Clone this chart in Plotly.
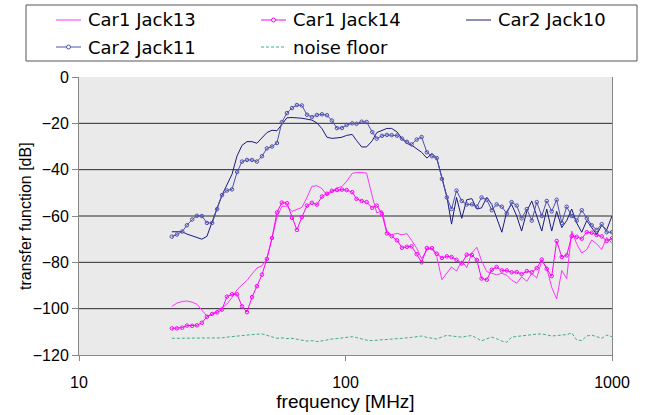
import plotly.graph_objects as go

# Measurement frequencies (MHz), shared by all sweeps
FREQ_MHZ = [22.3, 23.3, 24.4, 25.4, 26.6, 27.7, 28.9, 30.2, 31.6, 33.0,
            34.4, 35.9, 37.5, 39.2, 40.9, 42.7, 44.6, 46.5, 48.6, 50.7,
            53.0, 55.3, 57.7, 60.3, 63.0, 65.7, 68.6, 71.7, 74.8, 78.1,
            81.6, 85.2, 88.9, 92.9, 97.0, 101, 106, 110, 115, 120,
            126, 131, 137, 143, 149, 156, 163, 170, 177, 185,
            193, 202, 211, 220, 230, 240, 250, 261, 273, 285,
            298, 311, 324, 339, 354, 369, 386, 403, 420, 439,
            458, 479, 500, 522, 545, 569, 594, 620, 648, 676,
            706, 737, 770, 804, 839, 876, 915, 955, 1000]

# Transfer functions in dB
CAR1_JACK13 = [-99.0, -97.6, -96.9, -96.7, -97.2, -98.1, -100.6, -103.2, -102.4, -100.8,
               -99.7, -98.0, -95.2, -91.8, -89.7, -87.8, -85.0, -82.5, -81.5, -78.5,
               -69.5, -60.5, -55.8, -55.8, -58.0, -57.0, -56.3, -52.0, -47.2, -46.9,
               -48.2, -51.0, -49.4, -47.8, -47.3, -45.0, -41.6, -41.2, -41.2, -41.5,
               -51.5, -58.7, -57.6, -66.8, -68.1, -67.5, -68.1, -67.6, -70.5, -73.9,
               -78.5, -74.6, -73.9, -77.5, -87.5, -84.5, -82.0, -83.8, -79.3, -82.3,
               -75.9, -73.5, -79.3, -84.0, -84.7, -85.4, -84.7, -85.6, -87.7, -89.0,
               -86.3, -88.2, -84.8, -86.8, -79.2, -82.5, -90.8, -95.8, -83.5, -87.0,
               -66.5, -72.0, -76.0, -74.5, -70.4, -72.0, -74.5, -69.2, -71.8]

CAR1_JACK14 = [-108.5, -108.5, -108.2, -107.3, -107.4, -107.2, -106.1, -103.5, -102.3, -101.6,
               -100.4, -94.8, -93.8, -93.8, -99.0, -101.5, -95.0, -90.3, -85.3, -78.5,
               -69.5, -58.5, -54.2, -54.5, -60.8, -66.0, -60.5, -55.5, -54.3, -55.1,
               -51.6, -50.4, -49.1, -48.8, -48.6, -48.8, -49.7, -52.6, -53.5, -54.0,
               -56.5, -55.5, -59.0, -67.5, -68.7, -70.5, -73.7, -73.3, -73.1, -76.5,
               -80.0, -73.8, -73.9, -76.3, -78.1, -77.4, -77.7, -78.9, -80.5, -76.7,
               -76.8, -79.0, -87.0, -87.5, -83.2, -82.0, -83.5, -83.5, -84.3, -84.2,
               -85.1, -83.8, -84.3, -82.5, -78.8, -82.8, -86.0, -70.8, -77.7, -77.0,
               -68.7, -69.0, -69.8, -67.0, -67.2, -68.2, -68.8, -70.8, -69.6]

CAR2_JACK10 = [-66.8, -66.8, -66.8, -67.8, -68.5, -69.2, -70.0, -68.8, -62.0, -56.5,
               -51.0, -46.5, -42.0, -34.0, -29.5, -27.9, -27.9, -28.6, -26.0, -24.0,
               -23.0, -23.2, -20.5, -17.6, -17.5, -17.6, -17.8, -18.2, -18.6, -19.8,
               -22.3, -26.0, -26.5, -26.3, -26.0, -25.2, -24.8, -27.4, -30.2, -30.2,
               -27.5, -24.0, -23.0, -22.2, -22.2, -23.7, -26.6, -28.7, -29.4, -31.0,
               -32.5, -35.0, -33.0, -35.0, -43.0, -51.5, -63.5, -52.0, -61.0, -53.0,
               -52.5, -57.0, -56.5, -52.0, -55.0, -61.0, -67.0, -58.0, -55.0, -60.0,
               -66.5, -58.0, -53.5, -60.0, -66.5, -57.0, -66.5, -58.0, -65.0, -62.0,
               -57.0, -63.0, -67.0, -62.0, -65.0, -68.0, -64.0, -66.0, -60.0]

CAR2_JACK11 = [-68.9, -68.0, -66.7, -64.0, -61.5, -59.9, -60.0, -63.0, -63.0, -57.0,
               -51.0, -49.0, -48.5, -41.0, -36.5, -35.8, -35.8, -36.5, -34.2, -30.8,
               -30.0, -28.5, -19.5, -15.6, -13.4, -12.1, -12.3, -16.3, -17.3, -16.4,
               -16.1, -16.5, -18.8, -22.1, -22.0, -20.7, -20.0, -20.2, -19.3, -19.4,
               -23.8, -26.6, -25.4, -25.0, -25.1, -25.3, -26.6, -28.0, -29.1, -27.0,
               -25.9, -32.5, -34.2, -35.0, -44.0, -52.0, -57.0, -49.0, -53.5, -55.0,
               -55.0, -56.0, -52.0, -53.0, -57.5, -55.0, -56.0, -59.0, -54.0, -55.5,
               -61.0, -57.0, -62.0, -54.0, -60.0, -53.5, -58.0, -53.0, -63.0, -56.0,
               -60.0, -62.0, -57.5, -61.0, -64.0, -66.0, -63.5, -67.0, -67.0]

NOISE_FLOOR = [-112.8, -112.8, -112.8, -112.8, -112.8, -112.7, -112.8, -112.8, -112.8, -112.6,
               -112.6, -112.3, -112.0, -111.8, -111.6, -111.4, -111.2, -111.0, -110.9, -111.5,
               -112.3, -112.8, -112.6, -112.9, -112.8, -113.2, -113.5, -114.0, -113.8, -114.2,
               -113.9, -113.4, -113.1, -112.9, -112.6, -112.3, -112.1, -112.5, -113.0, -113.6,
               -113.8, -113.5, -113.4, -113.3, -113.2, -113.0, -112.8, -112.6, -112.4, -112.0,
               -111.8, -112.4, -112.8, -113.1, -112.2, -111.5, -111.8, -112.2, -112.3, -111.9,
               -111.6, -112.8, -113.9, -113.0, -112.3, -113.0, -114.0, -114.5, -112.3, -112.0,
               -111.7, -111.4, -111.2, -111.0, -110.9, -111.3, -111.8, -111.6, -111.4, -111.2,
               -110.5, -113.5, -113.8, -111.8, -111.4, -112.2, -112.8, -111.4, -112.1]

Y_GRID = [-20, -40, -60, -80, -100]
X_TICKS = [10, 100, 1000]

W, H = 647, 415
M_L, M_R, M_T, M_B = 79, 35, 77, 60
PLOT_W, PLOT_H = W - M_L - M_R, H - M_T - M_B


def px_x(px):
    """Horizontal page pixel -> paper coordinate."""
    return (px - M_L) / PLOT_W


def px_y(py):
    """Vertical page pixel (from top) -> paper coordinate."""
    return 1 + (M_T - py) / PLOT_H


SERIES = [
    dict(name="Car1 Jack13", y=CAR1_JACK13, color="#FF33FF", marker=False, dash="solid"),
    dict(name="Car1 Jack14", y=CAR1_JACK14, color="#FF00FF", marker=True, dash="solid"),
    dict(name="Car2 Jack10", y=CAR2_JACK10, color="#1A1A80", marker=False, dash="solid"),
    dict(name="Car2 Jack11", y=CAR2_JACK11, color="#4F4FB0", marker=True, dash="solid"),
    dict(name="noise floor", y=NOISE_FLOOR, color="#3FAF7F", marker=False, dash="3px,2px"),
]

fig = go.Figure()
for s in SERIES:
    fig.add_trace(go.Scatter(
        x=FREQ_MHZ, y=s["y"], name=s["name"],
        mode="lines+markers" if s["marker"] else "lines",
        line=dict(color=s["color"], width=1, dash=s["dash"]),
        marker=dict(symbol="circle-open", size=3.5, color=s["color"], line=dict(width=1)),
        showlegend=False,
    ))

shapes = [dict(type="line", xref="paper", x0=0, x1=1, yref="y", y0=v, y1=v,
               line=dict(color="#2A2A2A", width=1), layer="below") for v in Y_GRID]

# legend: framed box with three columns, two rows
shapes.append(dict(type="rect", xref="paper", yref="paper",
                   x0=px_x(26), x1=px_x(637), y0=px_y(61), y1=px_y(5),
                   line=dict(color="#555555", width=1), fillcolor="rgba(0,0,0,0)"))
annotations = []
col_x = [56, 261, 466]
row_y = [20, 47]
for i, s in enumerate(SERIES):
    x0 = col_x[i % 3]
    yc = row_y[i // 3]
    shapes.append(dict(type="line", xref="paper", yref="paper",
                       x0=px_x(x0), x1=px_x(x0 + 25), y0=px_y(yc), y1=px_y(yc),
                       line=dict(color=s["color"], width=1, dash=s["dash"])))
    if s["marker"]:
        cx = x0 + 12.5
        shapes.append(dict(type="circle", xref="paper", yref="paper",
                           x0=px_x(cx - 2), x1=px_x(cx + 2),
                           y0=px_y(yc + 2), y1=px_y(yc - 2),
                           line=dict(color=s["color"], width=1), fillcolor="white"))
    annotations.append(dict(text=s["name"], xref="paper", yref="paper",
                            x=px_x(x0 + 30), y=px_y(yc), xanchor="left", yanchor="middle",
                            showarrow=False,
                            font=dict(family="DejaVu Sans, sans-serif", size=18, color="black")))

annotations.append(dict(text="transfer function [dB]", xref="paper", yref="paper",
                        x=px_x(25), y=0.5, xanchor="center", yanchor="middle",
                        textangle=-90, showarrow=False,
                        font=dict(family="Liberation Sans, Arial, sans-serif", size=16)))

fig.update_layout(
    width=W, height=H,
    margin=dict(l=M_L, r=M_R, t=M_T, b=M_B),
    plot_bgcolor="#EAEAEA", paper_bgcolor="white",
    font=dict(family="Liberation Sans, Arial, sans-serif", size=16, color="black"),
    shapes=shapes, annotations=annotations,
    showlegend=False,
    xaxis=dict(type="log", range=[1, 3], tickvals=X_TICKS,
               ticktext=[str(t) for t in X_TICKS],
               ticks="outside", ticklen=5, tickcolor="#888888",
               showline=True, linecolor="#888888", linewidth=1,
               showgrid=False, zeroline=False, ticklabelstandoff=8,
               title=dict(text="frequency [MHz]", standoff=4), automargin=False),
    yaxis=dict(range=[-120, 0], dtick=20, ticks="outside", ticklen=6,
               tickcolor="#888888", showline=True, linecolor="#888888", linewidth=1,
               mirror=True, showgrid=False, zeroline=False, automargin=False),
)

fig.write_html("out.html")
